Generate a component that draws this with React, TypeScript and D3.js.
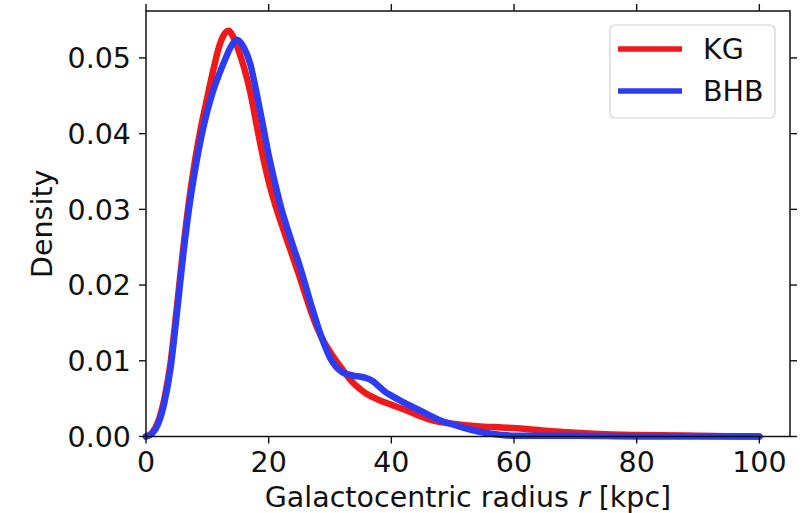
import React from "react";
import * as d3 from "d3";

const kgR = [0, 1, 2, 3, 4, 5, 6, 7, 8, 9, 10, 11, 12, 13, 13.5, 14, 15, 16, 17, 18, 19, 20, 21, 22, 23, 24, 25, 26, 27, 28, 29, 30, 31, 32, 33, 34, 35, 36, 37, 38, 40, 42, 44, 46, 48, 50, 52, 55, 58, 62, 66, 70, 75, 80, 90, 100];
const kgD = [0.0000, 0.0005, 0.0020, 0.0050, 0.0097, 0.0168, 0.0243, 0.0310, 0.0365, 0.0410, 0.0448, 0.0485, 0.0517, 0.0534, 0.0536, 0.0531, 0.0512, 0.0487, 0.0455, 0.0413, 0.0372, 0.0337, 0.0308, 0.0283, 0.0259, 0.0236, 0.0212, 0.0187, 0.0163, 0.0142, 0.0125, 0.0112, 0.0100, 0.0089, 0.0078, 0.0069, 0.0062, 0.0056, 0.0052, 0.0048, 0.0042, 0.0036, 0.0029, 0.0023, 0.0019, 0.0017, 0.0015, 0.0013, 0.0012, 0.0010, 0.0007, 0.0005, 0.0003, 0.0002, 0.0001, 0.0000];

const bhbR = [0, 1, 2, 3, 4, 5, 6, 7, 8, 9, 10, 11, 12, 13, 14, 14.8, 16, 17, 18, 19, 20, 21, 22, 23, 24, 25, 26, 27, 28, 29, 30, 31, 32, 33, 34, 35, 36, 37, 38, 39, 40, 42, 44, 46, 48, 50, 52, 54, 56, 58, 60, 70, 80, 90, 100];
const bhbD = [0.0000, 0.0004, 0.0017, 0.0045, 0.0090, 0.0160, 0.0235, 0.0300, 0.0352, 0.0395, 0.0430, 0.0458, 0.0480, 0.0500, 0.0517, 0.0524, 0.0513, 0.0492, 0.0455, 0.0414, 0.0372, 0.0336, 0.0303, 0.0276, 0.0251, 0.0227, 0.0200, 0.0172, 0.0146, 0.0123, 0.0104, 0.0092, 0.0085, 0.0082, 0.0080, 0.0079, 0.0077, 0.0073, 0.0066, 0.0059, 0.0054, 0.0045, 0.0037, 0.0029, 0.0021, 0.0016, 0.0011, 0.0007, 0.0004, 0.0002, 0.0001, 0.0001, 0.0000, 0.0000, 0.0000];

const xTicks = [0, 20, 40, 60, 80, 100];
const yTicks = [0, 0.01, 0.02, 0.03, 0.04, 0.05];
const seriesNames = ["KG", "BHB"];
const seriesColors = ["#f01818", "#2b3cf2"];

const W = 808;
const H = 513;
const FONT = "DejaVu Sans, sans-serif";
const FS = 28.5;

export default function App() {
  const x = d3.scaleLinear().domain([0, 105]).range([146, 790]);
  const y = d3.scaleLinear().domain([0, 0.0562]).range([436.5, 11]);
  const line = d3
    .line<[number, number]>()
    .x((d) => x(d[0]))
    .y((d) => y(d[1]))
    .curve(d3.curveMonotoneX);

  const series = [
    kgR.map((r, i) => [r, kgD[i]] as [number, number]),
    bhbR.map((r, i) => [r, bhbD[i]] as [number, number]),
  ];

  const [x0, x1] = x.range();
  const [y0, y1] = y.range();
  const tl = 7;

  return (
    <svg
      width={W}
      height={H}
      style={{ position: "absolute", left: 0, top: 0, background: "#fff" }}
      fontFamily={FONT}
    >
      <rect x={0} y={0} width={W} height={H} fill="#fff" />
      {series.map((s, i) => (
        <path
          key={i}
          d={line(s) || ""}
          fill="none"
          stroke={seriesColors[i]}
          strokeWidth={6.5}
          strokeLinejoin="round"
          strokeLinecap="round"
        />
      ))}
      {/* spines */}
      <rect x={x0} y={y1} width={x1 - x0} height={y0 - y1} fill="none" stroke="#111" strokeWidth={1.5} />
      {/* x ticks */}
      {xTicks.map((t) => (
        <g key={"x" + t}>
          <line x1={x(t)} x2={x(t)} y1={y0} y2={y0 + tl} stroke="#111" strokeWidth={1.4} />
          <line x1={x(t)} x2={x(t)} y1={y1} y2={y1 - tl} stroke="#111" strokeWidth={1.4} />
          <text x={x(t)} y={y0 + 35.5} textAnchor="middle" fontSize={FS} fill="#111">
            {t}
          </text>
        </g>
      ))}
      {/* y ticks */}
      {yTicks.map((t) => (
        <g key={"y" + t}>
          <line x1={x0} x2={x0 - tl} y1={y(t)} y2={y(t)} stroke="#111" strokeWidth={1.4} />
          <line x1={x1} x2={x1 + tl} y1={y(t)} y2={y(t)} stroke="#111" strokeWidth={1.4} />
          <text x={x0 - 15} y={y(t)} dy="0.36em" textAnchor="end" fontSize={FS} fill="#111">
            {d3.format(".2f")(t)}
          </text>
        </g>
      ))}
      {/* axis labels */}
      <text x={(x0 + x1) / 2} y={507} textAnchor="middle" fontSize={FS} fill="#111">
        Galactocentric radius <tspan fontStyle="italic">r</tspan> [kpc]
      </text>
      <text
        transform={`translate(52, ${(y0 + y1) / 2}) rotate(-90)`}
        textAnchor="middle"
        fontSize={FS}
        fill="#111"
      >
        Density
      </text>
      {/* legend */}
      <rect x={610} y={25} width={165} height={93} rx={5} fill="#fff" fillOpacity={0.8} stroke="#d0d0d0" strokeWidth={1.2} />
      {seriesNames.map((n, i) => (
        <g key={n}>
          <line x1={618} x2={682} y1={49 + i * 42} y2={49 + i * 42} stroke={seriesColors[i]} strokeWidth={5.5} />
          <text x={703} y={49 + i * 42} dy="0.36em" fontSize={FS} fill="#111">
            {n}
          </text>
        </g>
      ))}
    </svg>
  );
}
